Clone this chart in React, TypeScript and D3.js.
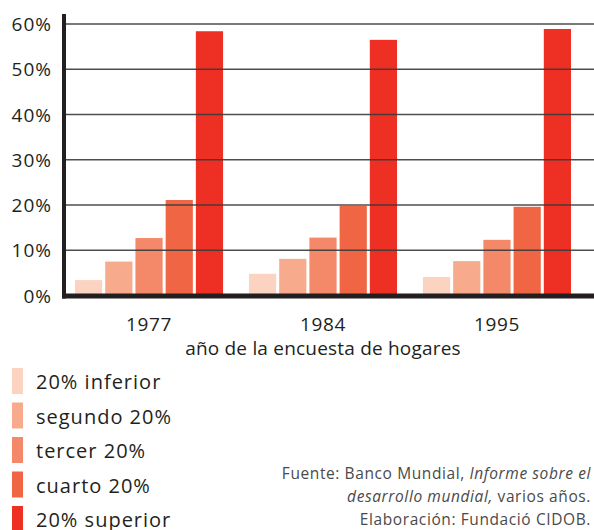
import React, { useRef, useEffect } from "react";
import * as d3 from "d3";

const years = ["1977", "1984", "1995"];
const groups = ["20% inferior", "segundo 20%", "tercer 20%", "cuarto 20%", "20% superior"];
const colors = ["#fcd3c1", "#f8ab8c", "#f4896a", "#f06544", "#ee3024"];
const shares = [
    [3.4, 7.5, 12.7, 21.1, 58.4],
    [4.8, 8.1, 12.8, 19.8, 56.5],
    [4.1, 7.6, 12.3, 19.6, 58.9],
];
const yTicks = [0, 10, 20, 30, 40, 50, 60];
const sourceLines = [
    [{ t: "Fuente: Banco Mundial, ", i: false }, { t: "Informe sobre el", i: true }],
    [{ t: "desarrollo mundial,", i: true }, { t: " varios años.", i: false }],
    [{ t: "Elaboración: Fundació CIDOB.", i: false }],
];

const App = () => {
    const svgRef = useRef(null);

    useEffect(() => {
        const svg = d3.select(svgRef.current);
        svg.selectAll("*").remove();

        const width = 594;
        const height = 530;
        const font = "'Open Sans', Lato, sans-serif";
        const ink = "#231f20";
        const axisX = 64;
        const yTop = 14;

        const y = d3.scaleLinear().domain([0, 60]).range([295.5, 24]);

        const x0 = d3
            .scaleBand()
            .domain(years)
            .range([63, 583])
            .paddingInner(0.149)
            .paddingOuter(0.069);

        const x1 = d3
            .scaleBand()
            .domain(groups)
            .range([0, x0.bandwidth()])
            .paddingInner(0.1);

        svg.attr("width", width).attr("height", height).style("display", "block");

        // bars
        years.forEach((yr, i) => {
            svg.append("g")
                .attr("transform", `translate(${x0(yr)},0)`)
                .selectAll("rect")
                .data(shares[i])
                .enter()
                .append("rect")
                .attr("x", (d, j) => x1(groups[j]))
                .attr("y", d => y(d))
                .attr("width", x1.bandwidth())
                .attr("height", d => y(0) - y(d))
                .attr("fill", (d, j) => colors[j]);
        });

        // gridlines, drawn over the bars
        svg.append("g")
            .selectAll("line")
            .data(yTicks.filter(d => d > 0))
            .enter()
            .append("line")
            .attr("x1", axisX)
            .attr("x2", width)
            .attr("y1", d => y(d))
            .attr("y2", d => y(d))
            .attr("stroke", "#3a3a3a")
            .attr("stroke-opacity", 0.9)
            .attr("stroke-width", 1.4);

        // axes
        svg.append("line")
            .attr("x1", axisX).attr("x2", axisX)
            .attr("y1", yTop).attr("y2", y(0) + 3)
            .attr("stroke", ink).attr("stroke-width", 4);
        svg.append("line")
            .attr("x1", axisX - 2).attr("x2", width)
            .attr("y1", y(0) + 0.5).attr("y2", y(0) + 0.5)
            .attr("stroke", ink).attr("stroke-width", 5);

        // y tick labels
        svg.append("g")
            .selectAll("text")
            .data(yTicks)
            .enter()
            .append("text")
            .attr("x", 52)
            .attr("y", d => y(d) + 7)
            .attr("text-anchor", "end")
            .attr("font-family", font)
            .attr("font-size", 19)
            .attr("letter-spacing", 1)
            .attr("fill", ink)
            .text(d => `${d}%`);

        // x labels
        svg.append("g")
            .selectAll("text")
            .data(years)
            .enter()
            .append("text")
            .attr("x", d => x0(d) + x0.bandwidth() / 2)
            .attr("y", 331)
            .attr("text-anchor", "middle")
            .attr("font-family", font)
            .attr("font-size", 19)
            .attr("letter-spacing", 0.6)
            .attr("fill", ink)
            .text(d => d);

        svg.append("text")
            .attr("x", 323)
            .attr("y", 355)
            .attr("text-anchor", "middle")
            .attr("font-family", font)
            .attr("font-size", 19)
            .attr("letter-spacing", 0.2)
            .attr("fill", ink)
            .text("año de la encuesta de hogares");

        // legend
        const legend = svg.append("g")
            .selectAll("g")
            .data(groups)
            .enter()
            .append("g")
            .attr("transform", (d, i) => `translate(12,${368 + i * 34.5})`);
        legend.append("rect")
            .attr("width", 11)
            .attr("height", 26)
            .attr("fill", (d, i) => colors[i]);
        legend.append("text")
            .attr("x", 24)
            .attr("y", 21)
            .attr("font-family", font)
            .attr("font-size", 20)
            .attr("letter-spacing", 1)
            .attr("fill", ink)
            .text(d => d);

        // source note
        const note = svg.append("g")
            .selectAll("text")
            .data(sourceLines)
            .enter()
            .append("text")
            .attr("x", 591)
            .attr("y", (d, i) => 479 + i * 23)
            .attr("text-anchor", "end")
            .attr("font-family", font)
            .attr("font-size", 15.5)
            .attr("letter-spacing", 0.6)
            .attr("fill", "#4a4a4a");
        note.selectAll("tspan")
            .data(d => d)
            .enter()
            .append("tspan")
            .attr("font-style", d => (d.i ? "italic" : "normal"))
            .text(d => d.t);
    }, []);

    return <svg ref={svgRef} style={{ position: "absolute", left: 0, top: 0 }}></svg>;
};

export default App;
